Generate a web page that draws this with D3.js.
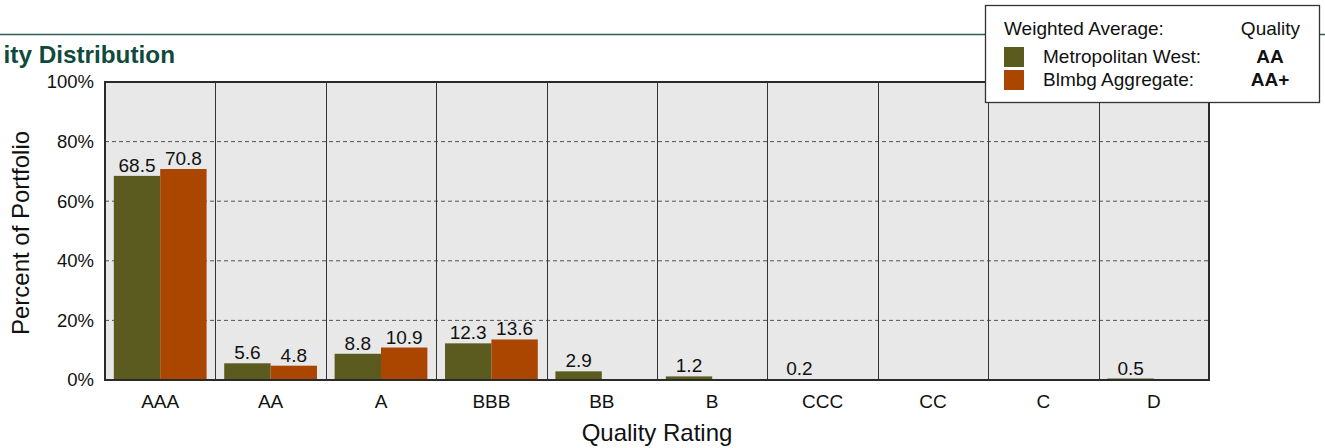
<!DOCTYPE html>
<html>
<head>
<meta charset="utf-8">
<script src="https://cdn.jsdelivr.net/npm/d3@7"></script>
<style>
  html, body { margin: 0; padding: 0; background: #ffffff; }
  svg { display: block; font-family: "Liberation Sans", Arial, sans-serif; }
</style>
</head>
<body>
<svg id="chart" width="1325" height="448"></svg>
<script>
// Credit quality buckets and portfolio weights (%)
const categories = ["AAA", "AA", "A", "BBB", "BB", "B", "CCC", "CC", "C", "D"];
const metropolitanWest = [68.5, 5.6, 8.8, 12.3, 2.9, 1.2, 0.2, 0, 0, 0.5];
const blmbgAggregate = [70.8, 4.8, 10.9, 13.6, 0, 0, 0, 0, 0, 0];
const seriesNames = ["Metropolitan West:", "Blmbg Aggregate:"];
const seriesQuality = ["AA", "AA+"];
const yTicks = [0, 20, 40, 60, 80, 100];

const colors = ["#5b5b1f", "#ab4600"];

const svg = d3.select("#chart");
const margin = { left: 105, right: 116, top: 82, bottom: 68 };
const W = 1325, H = 448;
const plotW = W - margin.left - margin.right;
const plotH = H - margin.top - margin.bottom;

// Header rule and title (title sits in a panel whose left edge is clipped)
svg.append("defs").append("clipPath").attr("id", "titleClip")
  .append("rect").attr("x", 3.5).attr("y", 0).attr("width", W).attr("height", 80);
svg.append("line")
  .attr("x1", 0).attr("x2", W).attr("y1", 34.5).attr("y2", 34.5)
  .attr("stroke", "#2e5e52").attr("stroke-width", 1.3);
svg.append("text")
  .attr("clip-path", "url(#titleClip)")
  .attr("x", 175).attr("y", 63)
  .attr("text-anchor", "end")
  .attr("font-size", 24.3).attr("font-weight", "bold")
  .attr("fill", "#0f4a3c")
  .text("Quality Distribution");

const g = svg.append("g").attr("transform", `translate(${margin.left},${margin.top})`);

const x = d3.scaleBand().domain(categories).range([0, plotW]).paddingInner(0).paddingOuter(0);
const xs = d3.scaleBand().domain([0, 1]).range([0, x.bandwidth()]).paddingInner(0).paddingOuter(0.19);
const y = d3.scaleLinear().domain([0, 100]).range([plotH, 0]);

// Plot background
g.append("rect").attr("width", plotW).attr("height", plotH).attr("fill", "#e8e8e8");

// Dashed horizontal gridlines
g.selectAll(".hgrid").data(yTicks.filter(t => t > 0 && t < 100)).join("line")
  .attr("x1", 0).attr("x2", plotW)
  .attr("y1", d => y(d)).attr("y2", d => y(d))
  .attr("stroke", "#555").attr("stroke-width", 1).attr("stroke-dasharray", "4,3");

// Category separators
g.selectAll(".vsep").data(categories.slice(1)).join("line")
  .attr("x1", d => Math.round(x(d)) + 0.5).attr("x2", d => Math.round(x(d)) + 0.5)
  .attr("y1", 0).attr("y2", plotH)
  .attr("stroke", "#333").attr("stroke-width", 1);

// Bars with value labels
const series = [metropolitanWest, blmbgAggregate];
series.forEach((vals, si) => {
  const data = categories.map((c, i) => ({ c, v: vals[i] })).filter(d => d.v > 0);
  g.selectAll(".bar" + si).data(data).join("rect")
    .attr("x", d => x(d.c) + xs(si))
    .attr("width", xs.bandwidth())
    .attr("y", d => y(d.v))
    .attr("height", d => Math.max(y(0) - y(d.v), 1.5))
    .attr("fill", colors[si]);
  g.selectAll(".lab" + si).data(data).join("text")
    .attr("x", d => x(d.c) + xs(si) + xs.bandwidth() / 2)
    .attr("y", d => y(d.v) - 4)
    .attr("text-anchor", "middle")
    .attr("font-size", 19).attr("fill", "#111")
    .text(d => d3.format(".1f")(d.v));
});

// Plot frame
g.append("rect").attr("width", plotW).attr("height", plotH)
  .attr("fill", "none").attr("stroke", "#2a2a2a").attr("stroke-width", 2);

// Y axis labels
const yAxis = d3.axisLeft(y).tickValues(yTicks).tickFormat(d => d + "%").tickSize(0).tickPadding(11);
const ya = g.append("g").call(yAxis);
ya.select(".domain").remove();
ya.selectAll("text").attr("font-size", 18.5).attr("fill", "#111")
  .attr("font-family", "Liberation Sans, Arial, sans-serif");

// X axis labels
const xAxis = d3.axisBottom(x).tickSize(0).tickPadding(15);
const xa = g.append("g").attr("transform", `translate(0,${plotH})`).call(xAxis);
xa.select(".domain").remove();
xa.selectAll("text").attr("font-size", 19).attr("fill", "#111")
  .attr("font-family", "Liberation Sans, Arial, sans-serif");

// Axis titles
svg.append("text")
  .attr("x", margin.left + plotW / 2).attr("y", 441)
  .attr("text-anchor", "middle").attr("font-size", 24).attr("fill", "#111")
  .text("Quality Rating");
svg.append("text")
  .attr("transform", `translate(29,${margin.top + plotH / 2 + 2}) rotate(-90)`)
  .attr("text-anchor", "middle").attr("font-size", 24).attr("fill", "#111")
  .text("Percent of Portfolio");

// Legend box
const lg = svg.append("g");
lg.append("rect").attr("x", 985.5).attr("y", 5.5).attr("width", 334).attr("height", 97)
  .attr("fill", "#fff").attr("stroke", "#333").attr("stroke-width", 1.3);
lg.append("text").attr("x", 1004).attr("y", 35).attr("font-size", 19).attr("fill", "#111")
  .text("Weighted Average:");
lg.append("text").attr("x", 1300).attr("y", 35).attr("text-anchor", "end")
  .attr("font-size", 19).attr("fill", "#111").text("Quality");
seriesNames.forEach((name, i) => {
  const yy = 47 + i * 23;
  lg.append("rect").attr("x", 1004).attr("y", yy).attr("width", 20).attr("height", 20)
    .attr("fill", colors[i]);
  lg.append("text").attr("x", 1043).attr("y", yy + 16).attr("font-size", 19).attr("fill", "#111")
    .text(name);
  lg.append("text").attr("x", 1270).attr("y", yy + 16).attr("text-anchor", "middle")
    .attr("font-size", 19).attr("font-weight", "bold").attr("fill", "#111")
    .text(seriesQuality[i]);
});
</script>
</body>
</html>
